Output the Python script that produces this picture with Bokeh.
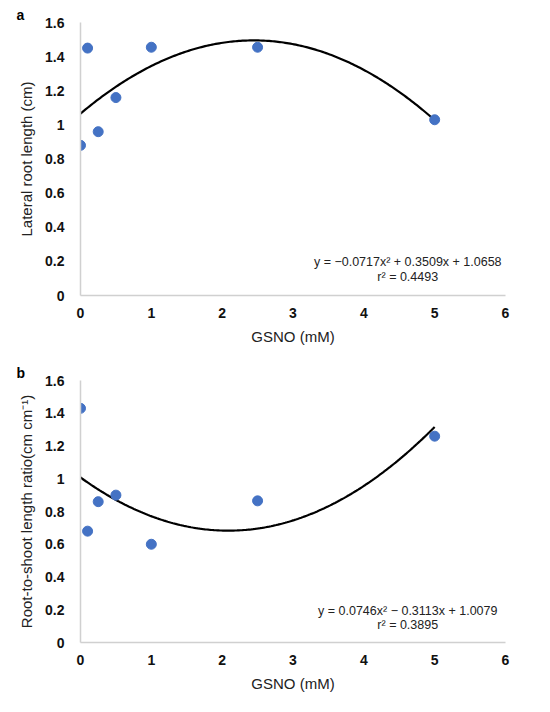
import numpy as np
from bokeh.plotting import figure
from bokeh.layouts import column
from bokeh.models import Range1d, Label, FixedTicker
from bokeh.embed import file_html
from bokeh.resources import INLINE

gsno = [0, 0.1, 0.25, 0.5, 1, 2.5, 5]
lateral_root = [0.88, 1.45, 0.96, 1.16, 1.455, 1.455, 1.03]
root_shoot = [1.43, 0.68, 0.86, 0.90, 0.60, 0.865, 1.26]
coef_a = [-0.0717, 0.3509, 1.0658]
coef_b = [0.0746, -0.3113, 1.0079]
eq_a = ["y = \u22120.0717x\u00b2 + 0.3509x + 1.0658", "r\u00b2 = 0.4493"]
eq_b = ["y = 0.0746x\u00b2 \u2212 0.3113x + 1.0079", "r\u00b2 = 0.3895"]
x_ticks = [0, 1, 2, 3, 4, 5, 6]
y_ticks = [0, 0.2, 0.4, 0.6, 0.8, 1.0, 1.2, 1.4, 1.6]

FONT = "Liberation Sans"


def make(height, top, bottom, ylab, yvals, coef, eq, eq_y, panel):
    p = figure(width=534, height=height, output_backend="svg", toolbar_location=None,
               x_range=Range1d(0, 6), y_range=Range1d(0, 1.6),
               min_border_left=80, min_border_right=29,
               min_border_top=top, min_border_bottom=bottom)
    p.outline_line_color = None
    p.grid.visible = False
    p.title.text = panel
    p.title.text_font = FONT
    p.title.text_font_size = "14px"
    p.title.text_font_style = "bold"
    p.title.text_color = "black"
    p.title.align = "left"
    p.title.offset = -64
    p.title.standoff = 0
    for ax in (p.xaxis, p.yaxis):
        ax.axis_line_color = "#d0d0d0"
        ax.axis_line_width = 1.5
        ax.major_tick_line_color = None
        ax.minor_tick_line_color = None
        ax.major_label_text_font = FONT
        ax.major_label_text_font_size = "14px"
        ax.major_label_text_font_style = "bold"
        ax.major_label_text_color = "#111111"
        ax.axis_label_text_font = FONT
        ax.axis_label_text_font_size = "15px"
        ax.axis_label_text_font_style = "normal"
        ax.axis_label_text_color = "#222222"
    p.xaxis.ticker = FixedTicker(ticks=x_ticks)
    p.yaxis.ticker = FixedTicker(ticks=y_ticks)
    p.yaxis.major_label_overrides = {1.0: "1", 0: "0"}
    p.xaxis.major_label_standoff = 6
    p.yaxis.major_label_standoff = 10
    p.xaxis.axis_label = "GSNO (mM)"
    p.xaxis.axis_label_standoff = 7
    p.yaxis.axis_label = ylab
    p.yaxis.axis_label_standoff = 7

    xs = np.linspace(0, 5, 200)
    p.line(xs, np.polyval(coef, xs), line_color="black", line_width=2.2)
    p.scatter(gsno, yvals, size=10, fill_color="#4472C4", line_color="#4472C4")

    for txt, yy in zip(eq, eq_y):
        p.add_layout(Label(x=4.62, y=yy, text=txt, text_align="center", text_baseline="middle",
                           text_font=FONT, text_font_size="12.5px", text_color="#222222"))
    return p


p1 = make(349, 22, 54, "Lateral root length (cm)", lateral_root, coef_a, eq_a, [0.199, 0.111], "a")
p2 = make(347, 31, 54, "Root-to-shoot length ratio(cm cm\u207b\u00b9)", root_shoot, coef_b, eq_b, [0.195, 0.104], "b")

layout = column(p1, p2, spacing=0)
open("out.html", "w").write(file_html(layout, INLINE))
